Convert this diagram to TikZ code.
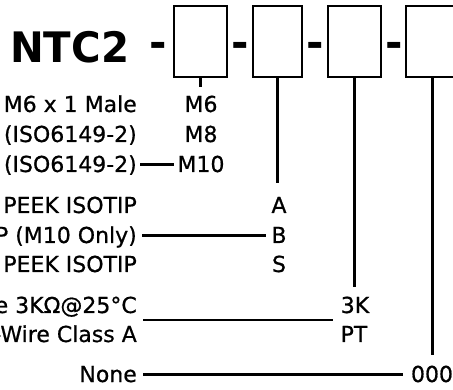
\documentclass[tikz,border=0pt]{standalone}
\usepackage{fontspec}
\setmainfont{DejaVu Sans}
\newfontfamily\lblfont[FakeBold=0.7]{DejaVu Sans}
\usetikzlibrary{calc}
\begin{document}
\begin{tikzpicture}[x=1pt,y=-1pt,
  codebox/.style={draw, line width=2.8pt, inner sep=0pt, minimum height=71pt},
  lbl/.style={font=\lblfont\fontsize{22}{22}\selectfont, inner sep=0pt, text height=15pt, text depth=0pt, anchor=base east},
  code/.style={font=\lblfont\fontsize{22}{22}\selectfont, inner sep=0pt, text height=15pt, text depth=0pt, anchor=base},
  conn/.style={line width=2.4pt},
  vline/.style={line width=2.6pt},
  sepdash/.style={font=\bfseries\fontsize{42}{42}\selectfont, inner sep=0pt, anchor=base},
  titletext/.style={font=\bfseries\fontsize{42}{42}\selectfont, inner sep=0pt, anchor=base west}
]
\useasboundingbox (0,0) rectangle (453,390);
\clip (0,0) rectangle (453,390);

% title and boxes
\node[titletext] (title) at (10,63) {\scalebox{0.96}[1]{NTC2}};
\node[sepdash] (d0) at (158,57.5) {-};
\node[codebox, minimum width=53pt] (b1) at (200.5,41.5) {};
\node[sepdash] (d1) at (240.5,57.5) {-};
\node[codebox, minimum width=49pt] (b2) at (277.5,41.5) {};
\node[sepdash] (d2) at (315.5,57.5) {-};
\node[codebox, minimum width=53pt] (b3) at (354.5,41.5) {};
\node[sepdash] (d3) at (394.5,57.5) {-};
\node[codebox, minimum width=53pt] (b4) at (432.5,41.5) {};

% left labels
\node[lbl] (l1) at (137,112) {M6 x 1 Male};
\node[lbl] (l2) at (137,142) {(ISO6149-2)};
\node[lbl] (l3) at (137,172) {(ISO6149-2)};
\node[lbl] (l4) at (137,213) {PEEK ISOTIP};
\node[lbl] (l5) at (137,243) {P (M10 Only)};
\node[lbl] (l6) at (137,272) {PEEK ISOTIP};
\node[lbl] (l7) at (137,313) {e 3KΩ@25°C};
\node[lbl] (l8) at (137,342) {-Wire Class A};
\node[lbl] (l9) at (137,382) {None};

% codes
\node[code] (cM6) at (201,112) {M6};
\node[code] (cM8) at (201,142) {M8};
\node[code] (cM10) at (201,172) {M10};
\node[code] (cA) at (279,213) {A};
\node[code] (cB) at (279,243) {B};
\node[code] (cS) at (279,272) {S};
\node[code] (c3K) at (355,313) {3K};
\node[code] (cPT) at (354,342) {PT};
\node[code] (c000) at (432,382) {000};

\coordinate (k1) at ($(l7.east)!0.5!(l8.east)$);
\coordinate (k2) at ($(c3K.west)!0.5!(cPT.west)$);

% horizontal connectors
\draw[conn, shorten <=3pt, shorten >=3pt] (l3.east) -- (cM10.west);
\draw[conn, shorten <=5pt, shorten >=5pt] (l5.east) -- (cB.west);
\draw[conn, shorten <=6pt, shorten >=8pt] (k1) -- (k2);
\draw[conn, shorten <=6pt, shorten >=8pt] (l9.east) -- (c000.west);

% vertical connectors
\draw[vline, shorten >=10pt] (b1.south) -- (b1.south |- cM6.north);
\draw[vline, shorten >=15pt] (b2.south) -- (b2.south |- cA.north);
\draw[vline, shorten >=11pt] (b3.south) -- (b3.south |- c3K.north);
\draw[vline, shorten >=12pt] (b4.south) -- (b4.south |- c000.north);
\end{tikzpicture}
\end{document}
